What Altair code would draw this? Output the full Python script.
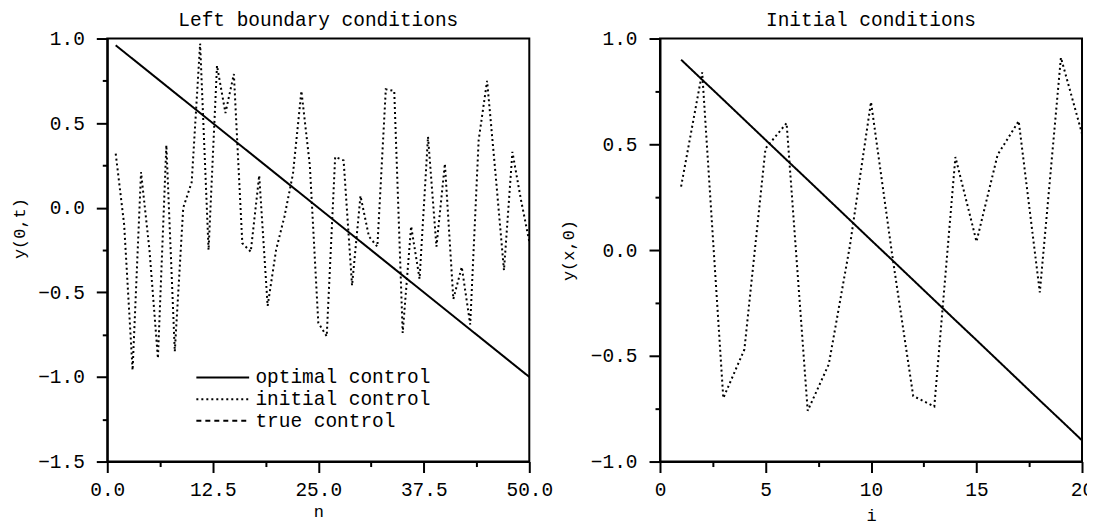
import altair as alt
import pandas as pd

FONT = "Liberation Mono"

# ---------------- data ----------------
n_vals = list(range(1, 51))
optimal_left = [0.96, 0.92, 0.88, 0.84, 0.80, 0.76, 0.72, 0.68, 0.64, 0.60,
                0.56, 0.52, 0.48, 0.44, 0.40, 0.36, 0.32, 0.28, 0.24, 0.20,
                0.16, 0.12, 0.08, 0.04, 0.00, -0.04, -0.08, -0.12, -0.16, -0.20,
                -0.24, -0.28, -0.32, -0.36, -0.40, -0.44, -0.48, -0.52, -0.56, -0.60,
                -0.64, -0.68, -0.72, -0.76, -0.80, -0.84, -0.88, -0.92, -0.96, -1.00]
random_left = [0.32, -0.10, -0.96, 0.21, -0.25, -0.89, 0.37, -0.85, 0.00, 0.15,
               0.97, -0.25, 0.84, 0.56, 0.79, -0.21, -0.26, 0.19, -0.58, -0.25,
               -0.05, 0.20, 0.69, 0.25, -0.68, -0.76, 0.30, 0.28, -0.46, 0.07,
               -0.17, -0.23, 0.70, 0.69, -0.74, -0.11, -0.42, 0.42, -0.23, 0.26,
               -0.54, -0.35, -0.69, 0.40, 0.75, 0.20, -0.37, 0.33, 0.05, -0.20]

i_vals = list(range(1, 21))
optimal_right = [0.900, 0.805, 0.711, 0.616, 0.521, 0.426, 0.332, 0.237, 0.142, 0.047,
                 -0.047, -0.142, -0.237, -0.332, -0.426, -0.521, -0.616, -0.711, -0.805, -0.900]
random_right = [0.30, 0.84, -0.70, -0.47, 0.48, 0.60, -0.76, -0.54, 0.02, 0.70,
                -0.02, -0.69, -0.74, 0.44, 0.04, 0.45, 0.61, -0.20, 0.91, 0.55]

series_names = ["optimal control", "initial control", "true control"]
dash_patterns = [[1, 0], [2, 3], [5, 4]]

left_x_ticks = [0.0, 12.5, 25.0, 37.5, 50.0]
left_x_minor = [6.25, 18.75, 31.25, 43.75]
left_y_ticks = [-1.5, -1.0, -0.5, 0.0, 0.5, 1.0]
left_y_minor = [-1.25, -0.75, -0.25, 0.25, 0.75]
right_x_ticks = [0, 5, 10, 15, 20]
right_x_minor = [2.5, 7.5, 12.5, 17.5]
right_y_ticks = [-1.0, -0.5, 0.0, 0.5, 1.0]
right_y_minor = [-0.75, -0.25, 0.25, 0.75]

left_df = pd.DataFrame({
    "x": n_vals + n_vals,
    "value": optimal_left + random_left,
    "series": [series_names[0]] * len(n_vals) + [series_names[1]] * len(n_vals),
})
right_df = pd.DataFrame({
    "x": i_vals + i_vals,
    "value": optimal_right + random_right,
    "series": [series_names[0]] * len(i_vals) + [series_names[1]] * len(i_vals),
})

LABEL_FS = 19.5
TITLE_FS = 17


def major_axis(orient, values, fmt, title, title_padding, title_y=None):
    kw = dict(
        orient=orient, values=values, format=fmt, title=title,
        grid=False, tickSize=11, tickWidth=2, tickColor="black",
        domainWidth=2, domainColor="black",
        labelFont=FONT, labelFontSize=LABEL_FS, labelColor="black",
        labelPadding=12 if orient == "left" else 8,
        titleFont=FONT, titleFontSize=TITLE_FS, titleFontWeight="normal",
        titleColor="black", titlePadding=title_padding,
        labelFlush=False, labelOverlap=False,
    )
    if title_y is not None:
        kw["titleY"] = title_y
    return alt.Axis(**kw)


def minor_axis(orient, values):
    return alt.Axis(orient=orient, values=values, labels=False, title=None,
                    grid=False, domain=False, tickSize=5, tickWidth=2,
                    tickColor="black")


def panel(df, xdom, ydom, xmaj, xmin, ymaj, ymin, xfmt, yfmt, xtitle, ytitle,
          title, xtp, ytp, legend, title_y=None):
    xs = alt.Scale(domain=xdom, nice=False, zero=False)
    ys = alt.Scale(domain=ydom, nice=False, zero=False)
    dash = alt.StrokeDash(
        "series:N",
        scale=alt.Scale(domain=series_names, range=dash_patterns),
        legend=legend,
    )
    lines = alt.Chart(df).mark_line(color="black", strokeWidth=2, clip=True).encode(
        x=alt.X("x:Q", scale=xs, axis=major_axis("bottom", xmaj, xfmt, xtitle, xtp)),
        y=alt.Y("value:Q", scale=ys, axis=major_axis("left", ymaj, yfmt, ytitle, ytp, title_y)),
        strokeDash=dash,
    )
    minor = alt.Chart(df).mark_point(opacity=0).encode(
        x=alt.X("x:Q", scale=xs, axis=minor_axis("bottom", xmin)),
        y=alt.Y("value:Q", scale=ys, axis=minor_axis("left", ymin)),
    )
    return alt.layer(lines, minor).resolve_axis(x="independent", y="independent").properties(
        width=423, height=424,
        title=alt.TitleParams(title, font=FONT, fontSize=LABEL_FS, fontWeight="normal",
                              color="black", anchor="middle", offset=-2),
    )


legend = alt.Legend(
    title=None, orient="none", legendX=106, legendY=330,
    symbolType="M-5,0H5", symbolSize=112, symbolStrokeColor="black",
    symbolStrokeWidth=2, symbolFillColor="transparent",
    labelFont=FONT, labelFontSize=LABEL_FS, labelColor="black", labelLimit=0,
    labelOffset=23, rowPadding=0.7, padding=0,
)

left = panel(left_df, [0, 50], [-1.5, 1.0], left_x_ticks, left_x_minor,
             left_y_ticks, left_y_minor, ".1f", ".1f", "n", "y(0,t)",
             "Left boundary conditions", 5, 9, legend, title_y=190)
right = panel(right_df, [0, 20], [-1.0, 1.0], right_x_ticks, right_x_minor,
              right_y_ticks, right_y_minor, "d", ".1f", "i", "y(x,0)",
              "Initial conditions", 9, 13, None)

chart = alt.hconcat(left, right, spacing=4).resolve_legend(
    strokeDash="independent"
).properties(
    padding={"left": 1.5, "top": 0, "right": -8, "bottom": -2}
).configure_view(stroke="black", strokeWidth=2)

chart.save("out.html", embed_options={"renderer": "svg", "actions": False})
